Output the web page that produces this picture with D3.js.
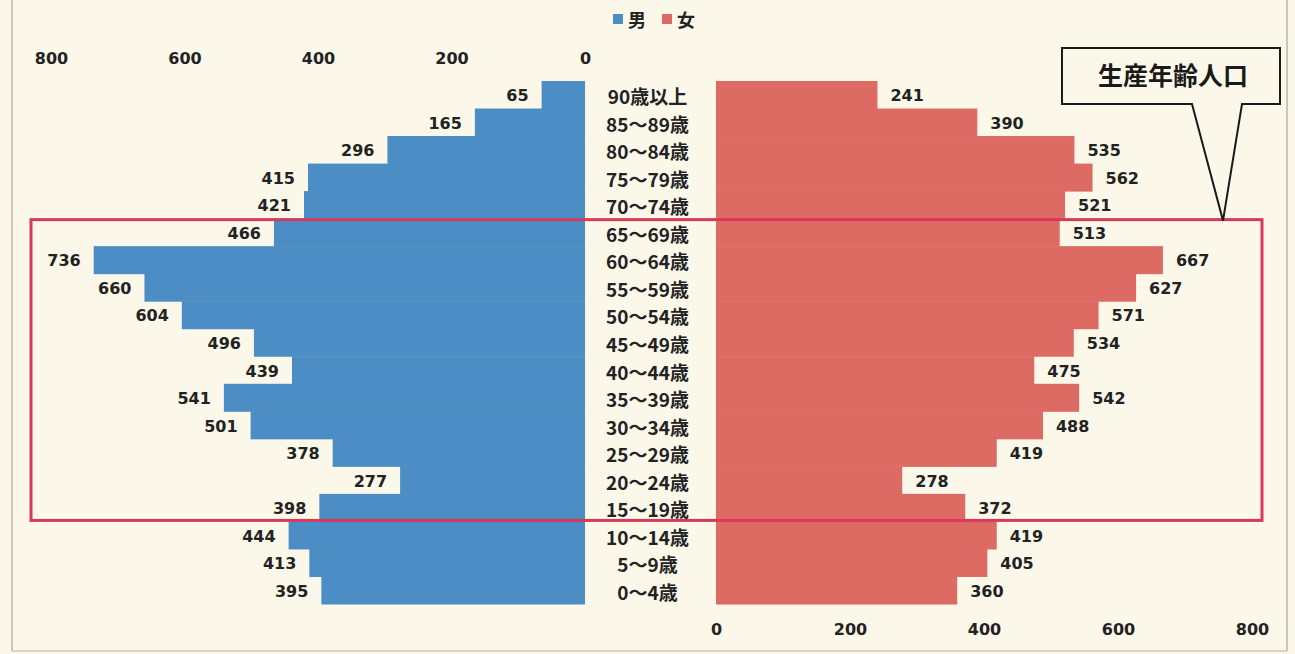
<!DOCTYPE html>
<html><head><meta charset="utf-8">
<script src="https://cdn.jsdelivr.net/npm/d3@7"></script>
<style>
html,body{margin:0;padding:0;background:#fbf8ea;}
svg{display:block;}
</style></head>
<body>
<svg id="c" width="1295" height="654"></svg>
<script>
const categories = ["90歳以上","85～89歳","80～84歳","75～79歳","70～74歳","65～69歳","60～64歳","55～59歳","50～54歳","45～49歳","40～44歳","35～39歳","30～34歳","25～29歳","20～24歳","15～19歳","10～14歳","5～9歳","0～4歳"];
const maleValues = [65,165,296,415,421,466,736,660,604,496,439,541,501,378,277,398,444,413,395];
const femaleValues = [241,390,535,562,521,513,667,627,571,534,475,542,488,419,278,372,419,405,360];
const tickValues = [0,200,400,600,800];
const seriesNames = ["男","女"];
const calloutText = "生産年齢人口";
const highlightFrom = "65～69歳", highlightTo = "15～19歳";

(function(){
const svg = d3.select("#c");
const W = 1295, H = 654;
const bg = "#fbf8ea", maleColor = "#4b8dc4", femaleColor = "#dd6a63";
const numFont = "'DejaVu Sans','Noto Sans CJK JP',sans-serif";
const cjkFont = "'Noto Sans CJK JP','DejaVu Sans',sans-serif";

svg.append("rect").attr("width",W).attr("height",H).attr("fill",bg);
// scan frame
svg.append("line").attr("x1",12).attr("x2",12).attr("y1",0).attr("y2",651).attr("stroke","#a8a59a").attr("stroke-width",1.2);
svg.append("line").attr("x1",1287).attr("x2",1287).attr("y1",0).attr("y2",651).attr("stroke","#a8a59a").attr("stroke-width",1.2);
svg.append("line").attr("x1",12).attr("x2",1287).attr("y1",651).attr("y2",651).attr("stroke","#b5b2a6").attr("stroke-width",1);

const y = d3.scaleBand().domain(categories).range([81,604]).padding(0);
const xM = d3.scaleLinear().domain([0,800]).range([585,51]);
const xF = d3.scaleLinear().domain([0,800]).range([716,1252]);

// bars
svg.append("g").selectAll("rect").data(categories).join("rect")
  .attr("x",(d,i)=>xM(maleValues[i])).attr("y",d=>y(d))
  .attr("width",(d,i)=>xM(0)-xM(maleValues[i])).attr("height",y.bandwidth()+0.5)
  .attr("fill",maleColor);
svg.append("g").selectAll("rect").data(categories).join("rect")
  .attr("x",xF(0)).attr("y",d=>y(d))
  .attr("width",(d,i)=>xF(femaleValues[i])-xF(0)).attr("height",y.bandwidth()+0.5)
  .attr("fill",femaleColor);

// value labels
svg.append("g").selectAll("text").data(categories).join("text")
  .attr("x",(d,i)=>xM(maleValues[i])-13).attr("y",d=>y(d)+y.bandwidth()/2+1)
  .attr("text-anchor","end").attr("dominant-baseline","central")
  .attr("font-family",numFont).attr("font-weight","bold").attr("font-size",16).attr("fill","#222")
  .text((d,i)=>maleValues[i]);
svg.append("g").selectAll("text").data(categories).join("text")
  .attr("x",(d,i)=>xF(femaleValues[i])+13).attr("y",d=>y(d)+y.bandwidth()/2+1)
  .attr("text-anchor","start").attr("dominant-baseline","central")
  .attr("font-family",numFont).attr("font-weight","bold").attr("font-size",16).attr("fill","#222")
  .text((d,i)=>femaleValues[i]);

// category labels
const cx = (xM(0)+xF(0))/2;
svg.append("g").selectAll("text").data(categories).join("text")
  .attr("x",cx-3).attr("y",d=>y(d)+y.bandwidth()/2+1)
  .attr("text-anchor","middle").attr("dominant-baseline","central")
  .attr("font-family",cjkFont).attr("font-weight","bold").attr("font-size",19).attr("fill","#222")
  .text(d=>d);

// axes
const axTop = svg.append("g").attr("transform","translate(0,64)")
  .call(d3.axisTop(xM).tickValues(tickValues).tickSize(0).tickPadding(0));
const axBot = svg.append("g").attr("transform","translate(0,624)")
  .call(d3.axisBottom(xF).tickValues(tickValues).tickSize(0).tickPadding(0));
[axTop,axBot].forEach(g=>{
  g.select(".domain").remove();
  g.selectAll("text").attr("font-family",numFont).attr("font-weight","bold").attr("font-size",16).attr("fill","#222");
});

// legend
const lg = svg.append("g");
const legendX = [613,662];
seriesNames.forEach((n,i)=>{
  lg.append("rect").attr("x",legendX[i]).attr("y",14).attr("width",10).attr("height",10)
    .attr("fill",i===0?maleColor:femaleColor);
  lg.append("text").attr("x",legendX[i]+15).attr("y",19).attr("dominant-baseline","central")
    .attr("font-family",cjkFont).attr("font-weight","bold").attr("font-size",18).attr("fill","#222").text(n);
});

// highlight box
const hy0 = y(highlightFrom), hy1 = y(highlightTo)+y.bandwidth();
svg.append("rect").attr("x",31).attr("y",hy0+1).attr("width",1262-31).attr("height",hy1-hy0-2)
  .attr("fill","none").attr("stroke","#d8385a").attr("stroke-width",3);

// callout
const cb = {x0:1062,x1:1280,y0:48,y1:104};
const tipX = 1223, tipY = hy0+2;
svg.append("path")
  .attr("d",`M${cb.x0},${cb.y0}H${cb.x1}V${cb.y1}H1242L${tipX},${tipY}L1192,${cb.y1}H${cb.x0}Z`)
  .attr("fill",bg).attr("stroke","#1a1a1a").attr("stroke-width",2);
svg.append("text").attr("x",(cb.x0+cb.x1)/2+2).attr("y",(cb.y0+cb.y1)/2-2)
  .attr("text-anchor","middle").attr("dominant-baseline","central")
  .attr("font-family",cjkFont).attr("font-weight","bold").attr("font-size",25).attr("fill","#1a1a1a")
  .text(calloutText);
})();
</script>
</body></html>
